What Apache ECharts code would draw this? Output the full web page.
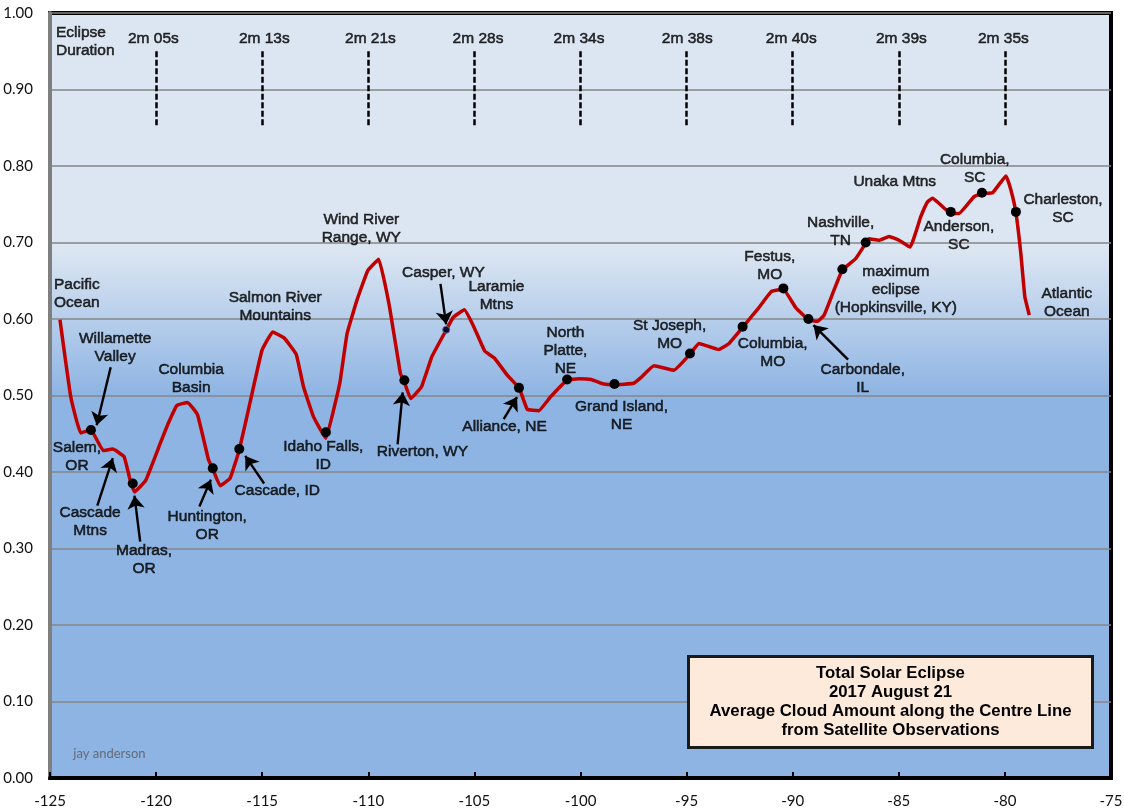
<!doctype html>
<html>
<head>
    <title>Total Solar Eclipse 2017 cloud amount</title>
    <script src="https://cdnjs.cloudflare.com/ajax/libs/echarts/6.0.0/echarts.min.js"></script>
</head>
<style>
    html, body { margin: 0; padding: 0; background: #fff; }
    #EChartParent { width: 1124px; height: 809px; }
</style>
<body>
<div id="EChartParent"></div>
<script>
  // cloud amount along the centre line: [longitude, cloud fraction]
  var cloudLine = [
    [-124.53,0.599],[-124.02,0.498],[-123.55,0.451],[-123.07,0.455],[-122.49,0.428],[-122.04,0.430],
    [-121.51,0.420],[-121.23,0.390],[-121.02,0.374],[-120.49,0.389],[-119.81,0.437],[-119.42,0.464],
    [-119.02,0.487],[-118.52,0.491],[-118.05,0.475],[-117.53,0.416],[-117.33,0.404],[-116.98,0.382],
    [-116.51,0.392],[-116.08,0.429],[-115.49,0.501],[-115.01,0.559],[-114.50,0.583],[-113.96,0.575],
    [-113.40,0.554],[-113.05,0.511],[-112.58,0.472],[-112.00,0.444],[-111.56,0.490],[-111.32,0.520],
    [-111.00,0.581],[-110.53,0.625],[-110.03,0.663],[-109.51,0.678],[-109.00,0.616],[-108.49,0.529],
    [-108.32,0.519],[-108.00,0.496],[-107.50,0.511],[-107.00,0.551],[-106.32,0.586],[-106.00,0.602],
    [-105.47,0.612],[-105.03,0.590],[-104.51,0.558],[-104.06,0.549],[-103.46,0.527],[-102.88,0.509],
    [-102.51,0.482],[-101.97,0.480],[-101.42,0.498],[-100.63,0.520],[-100.08,0.522],[-99.50,0.521],
    [-98.90,0.515],[-98.40,0.514],[-97.49,0.516],[-97.17,0.523],[-96.54,0.539],[-95.60,0.533],
    [-94.84,0.554],[-94.42,0.568],[-93.48,0.560],[-93.00,0.568],[-92.36,0.589],[-91.59,0.615],
    [-91.00,0.636],[-90.44,0.639],[-89.86,0.615],[-89.26,0.599],[-88.83,0.597],[-88.52,0.605],
    [-88.05,0.638],[-87.66,0.664],[-87.03,0.679],[-86.56,0.699],[-86.40,0.705],[-85.93,0.703],
    [-85.46,0.708],[-84.99,0.703],[-84.47,0.694],[-83.96,0.734],[-83.65,0.753],[-83.41,0.758],
    [-83.10,0.751],[-82.55,0.738],[-82.16,0.738],[-81.45,0.760],[-81.08,0.764],[-80.58,0.765],
    [-79.95,0.787],[-79.72,0.769],[-79.48,0.739],[-79.25,0.686],[-79.06,0.629],[-78.85,0.605]
  ];

  var cityPoints = [
    [-123.07,0.455],[-121.10,0.385],[-117.33,0.405],[-116.08,0.430],[-112.00,0.452],[-108.30,0.520],
    [-102.90,0.510],[-100.63,0.521],[-98.40,0.515],[-94.84,0.555],[-92.36,0.590],[-90.44,0.640],
    [-89.26,0.600],[-87.66,0.665],[-86.56,0.700],[-82.55,0.740],[-81.08,0.765],[-79.48,0.740]
  ];
  var casperPoint = [-106.33,0.586];

  var durationLons = [-120,-115,-110,-105,-100,-95,-90,-85,-80];
  var durationTexts = ['2m 05s','2m 13s','2m 21s','2m 28s','2m 34s','2m 38s','2m 40s','2m 39s','2m 35s'];
  var durationLabelLons = [-120.13,-114.9,-109.9,-104.83,-100.07,-94.97,-90.07,-84.88,-80.07];

  // place names: [longitude, value, text]
  var placeLabels = [
    [-121.93,0.563,'Willamette\nValley'],
    [-118.35,0.522,'Columbia\nBasin'],
    [-114.39,0.616,'Salmon River\nMountains'],
    [-110.33,0.718,'Wind River\nRange, WY'],
    [-106.46,0.660,'Casper, WY'],
    [-103.96,0.630,'Laramie\nMtns'],
    [-100.71,0.558,'North\nPlatte,\nNE'],
    [-95.80,0.579,'St Joseph,\nMO'],
    [-91.08,0.669,'Festus,\nMO'],
    [-87.74,0.714,'Nashville,\nTN'],
    [-85.19,0.779,'Unaka Mtns'],
    [-81.42,0.797,'Columbia,\nSC'],
    [-77.26,0.744,'Charleston,\nSC'],
    [-82.17,0.709,'Anderson,\nSC'],
    [-85.14,0.638,'maximum\neclipse\n(Hopkinsville, KY)'],
    [-77.08,0.621,'Atlantic\nOcean'],
    [-90.94,0.556,'Columbia,\nMO'],
    [-86.70,0.522,'Carbondale,\nIL'],
    [-98.07,0.473,'Grand Island,\nNE'],
    [-103.58,0.459,'Alliance, NE'],
    [-107.45,0.426,'Riverton, WY'],
    [-112.12,0.421,'Idaho Falls,\nID'],
    [-114.29,0.376,'Cascade, ID'],
    [-117.59,0.330,'Huntington,\nOR'],
    [-123.73,0.420,'Salem,\nOR'],
    [-123.11,0.335,'Cascade\nMtns'],
    [-120.57,0.285,'Madras,\nOR']
  ];
  // these two are set flush left in the reference
  var leftLabels = [
    [-124.81,0.633,'Pacific\nOcean'],
    [-124.72,0.962,'Eclipse\nDuration']
  ];

  // arrows: [tail lon, tail value, head lon, head value]
  var arrows = [
    [-122.14,0.537,-122.80,0.461],
    [-122.77,0.356,-122.04,0.418],
    [-120.75,0.309,-121.02,0.369],
    [-117.96,0.355,-117.42,0.390],
    [-114.91,0.385,-115.80,0.421],
    [-108.62,0.436,-108.38,0.504],
    [-106.60,0.646,-106.33,0.593],
    [-103.62,0.469,-102.99,0.498],
    [-87.39,0.547,-89.02,0.592]
  ];

  var noteLines = ['Total Solar Eclipse','2017 August 21','Average Cloud Amount along the Centre Line','from Satellite Observations'];

  var chart = document.getElementById('EChartParent');
  var myChart = echarts.init(chart);

  var labelData = placeLabels.map(function (a) {
    return { value: [a[0], a[1]], name: a[2] };
  });
  leftLabels.forEach(function (a) {
    labelData.push({ value: [a[0], a[1]], name: a[2], label: { align: 'left' } });
  });
  durationTexts.forEach(function (t, i) {
    labelData.push({ value: [durationLabelLons[i], 0.966], name: t });
  });
  labelData.push({ value: [-122.2, 0.032], name: 'jay anderson',
    label: { fontFamily: 'Lato', fontSize: 13, color: '#595959', textBorderWidth: 0 } });

  var lineMarks = [];
  durationLons.forEach(function (lon) {
    lineMarks.push([
      { coord: [lon, 0.95], symbol: 'none', lineStyle: { color: '#000', width: 2.5, type: [6, 2.5] } },
      { coord: [lon, 0.85], symbol: 'none' }
    ]);
  });
  arrows.forEach(function (a) {
    lineMarks.push([
      { coord: [a[0], a[1]], symbol: 'none', lineStyle: { color: '#000', width: 2.4, type: 'solid' } },
      { coord: [a[2], a[3]], symbol: 'arrow', symbolSize: 13 }
    ]);
  });

  var option = {
    animation: false,
    grid: {
      left: 50, right: 13, top: 13, bottom: 31,
      outerBoundsMode: 'none',
      show: true,
      borderColor: '#000',
      borderWidth: 4,
      backgroundColor: new echarts.graphic.LinearGradient(0, 0, 0, 1, [
        { offset: 0, color: '#DCE6F2' },
        { offset: 0.31, color: '#DCE6F2' },
        { offset: 0.50, color: '#8EB4E3' },
        { offset: 1, color: '#8EB4E3' }
      ])
    },
    xAxis: {
      type: 'value', min: -125, max: -75, interval: 5,
      splitLine: { show: false },
      axisLine: { show: true, onZero: false, lineStyle: { color: '#000', width: 4 } },
      axisTick: { show: true, inside: true, length: 6, lineStyle: { color: '#000', width: 2 } },
      axisLabel: { margin: 12, fontFamily: 'Lato', fontSize: 15, color: '#111',
        showMinLabel: true, showMaxLabel: true }
    },
    yAxis: {
      type: 'value', min: 0, max: 1, interval: 0.1,
      splitLine: { show: true, lineStyle: { color: '#868686', width: 1.5 } },
      axisLine: { show: true, onZero: false, lineStyle: { color: '#7f7f7f', width: 4 } },
      axisTick: { show: false },
      axisLabel: { margin: 17, fontFamily: 'Lato', fontSize: 15, color: '#111',
        formatter: function (v) { return v.toFixed(2); } }
    },
    series: [
      {
        type: 'line', data: cloudLine, showSymbol: false, smooth: 0.1, z: 3,
        lineStyle: { color: '#C00000', width: 3.5 },
        markLine: { silent: true, animation: false, label: { show: false }, data: lineMarks }
      },
      {
        type: 'scatter', data: cityPoints, symbolSize: 10, z: 4,
        itemStyle: { color: '#000', opacity: 1 }
      },
      {
        type: 'scatter', data: [casperPoint], symbolSize: 7, z: 4,
        itemStyle: { color: '#0a0a2a', borderColor: '#6a5a90', borderWidth: 1, opacity: 1 }
      },
      {
        type: 'scatter', data: labelData, symbolSize: 1, z: 5, silent: true,
        itemStyle: { color: 'transparent' },
        label: {
          show: true, position: 'inside',
          formatter: function (p) { return p.name; },
          fontFamily: 'Liberation Sans', fontSize: 15.5, fontWeight: 'normal',
          lineHeight: 18, color: '#000', align: 'center', verticalAlign: 'middle',
          textBorderColor: '#000', textBorderWidth: 0.55
        }
      }
    ],
    graphic: [
      {
        type: 'rect', z: 100,
        shape: { x: 688.5, y: 656.5, width: 404, height: 91 },
        style: { fill: '#FDEADA', stroke: '#1a1a1a', lineWidth: 3 }
      },
      {
        type: 'text', z: 101, x: 890.5, y: 702,
        style: {
          text: noteLines.join('\n'), fill: '#000',
          font: 'bold 16.8px "Liberation Sans"', lineHeight: 19,
          align: 'center', verticalAlign: 'middle'
        }
      }
    ]
  };

  myChart.setOption(option);
</script>
</body>
</html>
